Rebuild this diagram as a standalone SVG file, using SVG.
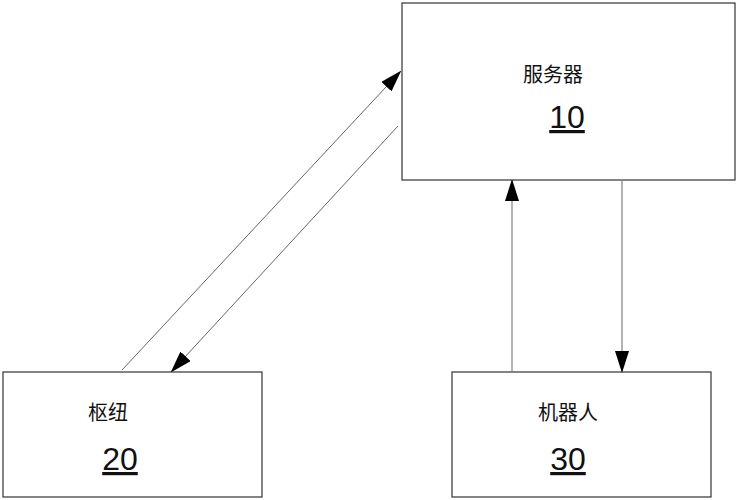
<svg xmlns="http://www.w3.org/2000/svg" width="736" height="500" viewBox="0 0 736 500">
<style>
.box{fill:#fff;stroke:#333;stroke-width:1.2}
.lbl{font-family:"Liberation Sans","Noto Sans CJK SC",sans-serif;font-size:20px;fill:#111;text-anchor:middle}
.num{font-family:"Liberation Sans",sans-serif;font-size:32px;fill:#111;text-anchor:middle;text-decoration:underline}
.ln{stroke:#666;stroke-width:1;fill:none;marker-end:url(#ah)}
</style>
<defs><marker id="ah" markerWidth="22" markerHeight="14" refX="20" refY="7" viewBox="0 0 22 14" orient="auto" markerUnits="userSpaceOnUse"><path d="M0,0 L22,7 L0,14 Z" fill="#000"/></marker></defs>
<rect width="736" height="500" fill="#fff"/>
<g id="server"><rect class="box" x="402" y="3" width="333" height="177"/><text class="lbl" x="553" y="82">服务器</text><text class="num" x="567" y="128">10</text></g>
<g id="hub"><rect class="box" x="3" y="372" width="259" height="125"/><text class="lbl" x="108" y="420">枢纽</text><text class="num" x="120" y="470">20</text></g>
<g id="robot"><rect class="box" x="452" y="372" width="259" height="125"/><text class="lbl" x="568" y="420">机器人</text><text class="num" x="568" y="470">30</text></g>
<g id="connectors">
<line class="ln" x1="122" y1="370" x2="400" y2="72"/>
<line class="ln" x1="398" y1="126" x2="172" y2="371"/>
<line class="ln" x1="512" y1="371" x2="512" y2="181"/>
<line class="ln" x1="622" y1="181" x2="622" y2="371"/>
</g>
</svg>
